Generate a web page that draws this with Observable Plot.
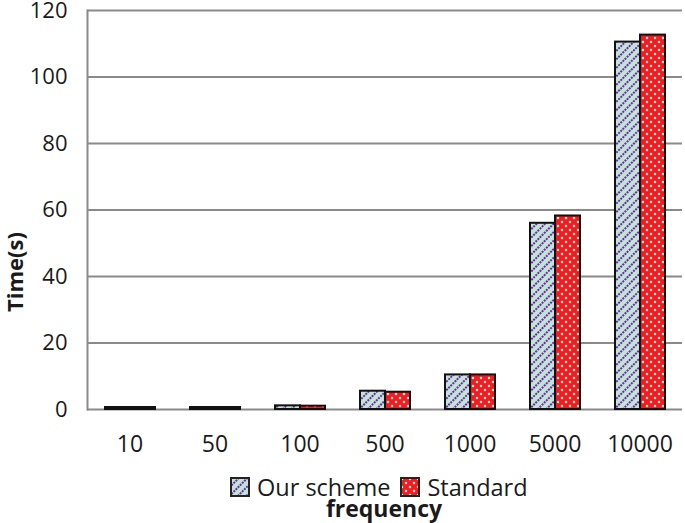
<!DOCTYPE html>
<html>
<head>
<meta charset="utf-8">
<script src="https://cdn.jsdelivr.net/npm/d3@7"></script>
<script src="https://cdn.jsdelivr.net/npm/@observablehq/plot@0.6"></script>
<style>
  html, body { margin: 0; padding: 0; background: #fff; }
  #wrap { position: relative; width: 685px; height: 523px; font-family: "Open Sans", sans-serif; color: #1a1a1a; }
  #chart { position: absolute; left: 0; top: 0; }
  #ylabel { position: absolute; left: 14px; top: 272px; transform: translate(-50%, -50%) rotate(-90deg); white-space: nowrap; font-weight: bold; font-size: 22px; line-height: 24px; }
  #legend { position: absolute; left: 230px; top: 476px; display: flex; align-items: center; font-size: 23.5px; line-height: 22px; }
  #legend .item { display: flex; align-items: center; }
  #legend .item + .item { margin-left: 10px; }
  #legend svg { margin-right: 7px; }
  #xlabel { position: absolute; left: 84px; width: 600px; top: 495px; text-align: center; font-weight: bold; font-size: 23px; line-height: 27px; }
</style>
</head>
<body>
<div id="wrap">
  <div id="chart"></div>
  <div id="ylabel">Time(s)</div>
  <div id="legend"></div>
  <div id="xlabel">frequency</div>
</div>
<script>
const freq = ["10", "50", "100", "500", "1000", "5000", "10000"];
const series = ["Our scheme", "Standard"];
const ourScheme = [0.6, 0.6, 1.1, 5.5, 10.4, 56, 110.5];
const standard = [0.6, 0.6, 1.0, 5.2, 10.4, 58.2, 112.6];
const yTicks = [0, 20, 40, 60, 80, 100, 120];
const fills = ["url(#pat-ours)", "url(#pat-std)"];

const data = freq.flatMap((f, i) => [
  {freq: f, series: series[0], time: ourScheme[i]},
  {freq: f, series: series[1], time: standard[i]}
]);

const patternDefs = `
  <pattern id="pat-ours" patternUnits="userSpaceOnUse" width="6" height="6" patternTransform="rotate(45)">
    <rect width="6" height="6" fill="#c4e3d8"></rect>
    <line x1="1" y1="0" x2="1" y2="6" stroke="#6b2da0" stroke-width="2" stroke-dasharray="2 1"></line>
  </pattern>
  <pattern id="pat-std" patternUnits="userSpaceOnUse" width="8" height="8">
    <rect width="8" height="8" fill="#f01c22"></rect>
    <circle cx="2" cy="2" r="1.25" fill="#f3e6cf"></circle>
    <circle cx="6" cy="6" r="1.25" fill="#f3e6cf"></circle>
  </pattern>`;

const chart = Plot.plot({
  width: 685,
  height: 470,
  marginLeft: 84,
  marginRight: 1,
  marginTop: 10,
  marginBottom: 61,
  style: {fontFamily: "Open Sans", fontSize: "22px", color: "#1a1a1a", background: "white", overflow: "visible"},
  fx: {domain: freq, padding: 0, label: null, axis: null},
  x: {domain: series, paddingInner: 0, paddingOuter: 0.68, axis: null},
  y: {domain: [0, 120], axis: null},
  color: {domain: series, range: fills},
  marks: [
    Plot.ruleY(yTicks, {stroke: "#8a8a8a", strokeWidth: 2}),
    Plot.frame({anchor: "left", facet: "super", stroke: "#8a8a8a", strokeWidth: 2}),
    Plot.axisY({ticks: yTicks, tickSize: 0, tickPadding: 20, label: null, fontSize: 22}),
    Plot.axisFx({anchor: "bottom", tickSize: 0, tickPadding: 26, label: null, fontSize: 23}),
    Plot.barY(data, {fx: "freq", x: "series", y: "time", fill: "series", stroke: "#111", strokeWidth: 2})
  ]
});

d3.select(chart).insert("defs", ":first-child").html(patternDefs);
document.getElementById("chart").appendChild(chart);

const legend = d3.select("#legend");
series.forEach((s, i) => {
  const item = legend.append("div").attr("class", "item");
  const sw = item.append("svg").attr("width", 20).attr("height", 20);
  sw.append("defs").html(patternDefs.replace(/pat-/g, "lg" + i + "-"));
  sw.append("rect").attr("x", 1).attr("y", 1).attr("width", 18).attr("height", 18)
    .attr("fill", fills[i].replace("pat-", "lg" + i + "-")).attr("stroke", "#222").attr("stroke-width", 2);
  item.append("span").text(s);
});
</script>
</body>
</html>
